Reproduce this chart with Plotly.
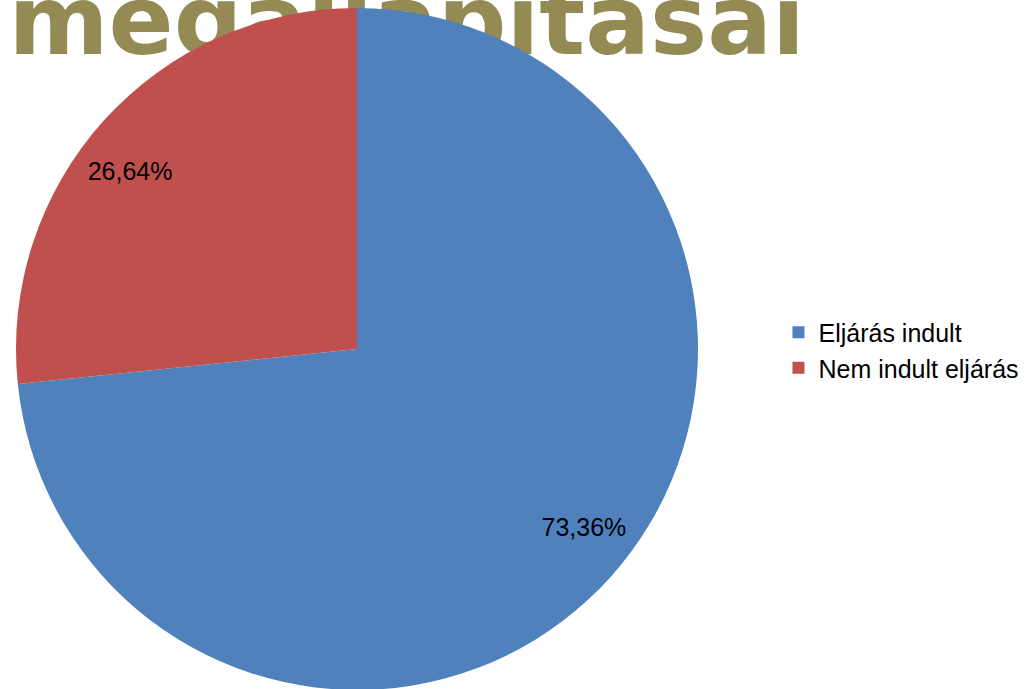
import plotly.graph_objects as go

title_text = "megállapításai"
labels = ["Eljárás indult", "Nem indult eljárás"]
values = [73.36, 26.64]
colors = ["#4F81BD", "#C0504D"]
pct_text = [f"{v:.2f}%".replace(".", ",") for v in values]

W, H = 1027, 698

fig = go.Figure()

# Title text drawn in the cartesian layer so the pie sits on top of it
fig.add_trace(go.Scatter(
    x=[0.396], y=[1 - 30 / H], mode="text", text=[title_text],
    textposition="middle center",
    textfont=dict(family="DejaVu Sans", size=96, color="#948A54", weight="bold"),
    showlegend=False, hoverinfo="skip", cliponaxis=False,
))

pie_domain = dict(x=[16 / W, 698 / W], y=[0, 1])

fig.add_trace(go.Pie(
    labels=labels, values=values, sort=False, direction="clockwise", rotation=0,
    marker=dict(colors=colors, line=dict(width=0)),
    textinfo="none",
    domain=pie_domain,
    hoverinfo="label+value",
))

# transparent ring carrying the percentage labels near the rim
fig.add_trace(go.Pie(
    labels=labels, values=values, sort=False, direction="clockwise", rotation=-4,
    hole=0.69,
    marker=dict(colors=["rgba(0,0,0,0)"] * len(values), line=dict(width=0)),
    text=pct_text, textinfo="text", textposition="inside",
    insidetextorientation="horizontal",
    textfont=dict(family="Liberation Sans", size=25, color="black"),
    domain=pie_domain, showlegend=False, hoverinfo="skip",
))

fig.update_layout(
    width=W, height=H,
    margin=dict(l=0, r=0, t=0, b=0),
    paper_bgcolor="white", plot_bgcolor="rgba(0,0,0,0)",
    xaxis=dict(visible=False, range=[0, 1], domain=[0, 1]),
    yaxis=dict(visible=False, range=[0, 1], domain=[0, 1]),
    showlegend=True,
    legend=dict(x=0.758, y=1 - 350 / H, xanchor="left", yanchor="middle",
                font=dict(family="Liberation Sans", size=25, color="black"),
                bgcolor="rgba(0,0,0,0)"),
)

fig.write_html(
    "out.html",
    config={"displayModeBar": False},
    post_script="document.body.style.margin='0';document.body.style.overflow='hidden';"
                "document.documentElement.style.overflow='hidden';",
)
